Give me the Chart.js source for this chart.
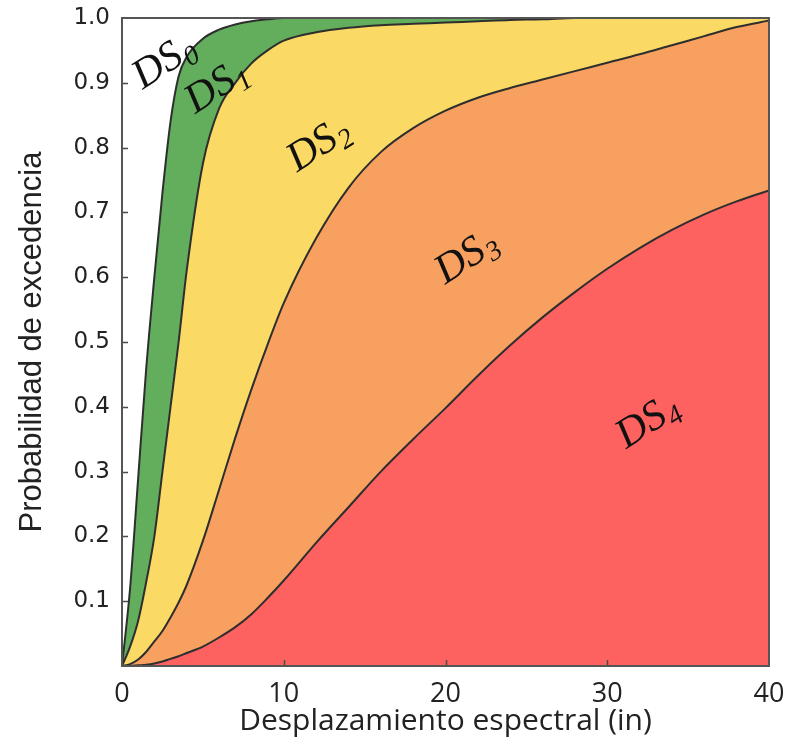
<!DOCTYPE html>
<html>
<head>
<meta charset="utf-8">
<script src="https://cdn.jsdelivr.net/npm/chart.js@4.4.1/dist/chart.umd.min.js"></script>
<style>
  html, body { margin: 0; padding: 0; background: #fff; }
</style>
</head>
<body>
<canvas id="chart" width="786" height="743"></canvas>
<script>
"use strict"

// spectral displacement (in)
const xs = [0, 0.5, 1, 1.5, 2, 2.5, 3, 3.5, 4, 5, 6, 7, 8, 9, 10,
            12, 14, 16, 18, 20, 22, 24, 26, 28, 30, 32, 34, 36, 38, 40];

// exceedance probability of each damage state boundary
const ds1 = [0, 0.12, 0.29, 0.46, 0.6, 0.73, 0.84, 0.91, 0.94, 0.968, 0.982, 0.99, 0.995, 0.998, 1,
             1, 1, 1, 1, 1, 1, 1, 1, 1, 1, 1, 1, 1, 1, 1];
const ds2 = [0, 0.03, 0.07, 0.13, 0.2, 0.3, 0.4, 0.5, 0.61, 0.775, 0.86, 0.9, 0.93, 0.95, 0.965,
             0.978, 0.985, 0.989, 0.991, 0.993, 0.995, 0.997, 0.998, 1, 1, 1, 1, 1, 1, 1];
const ds3 = [0, 0.003, 0.01, 0.022, 0.038, 0.054, 0.075, 0.098, 0.125, 0.193, 0.272, 0.352, 0.427, 0.496, 0.56,
             0.66, 0.738, 0.793, 0.83, 0.857, 0.877, 0.892, 0.905, 0.918, 0.931, 0.944, 0.958, 0.972, 0.986, 0.996];
const ds4 = [0, 0, 0.001, 0.002, 0.004, 0.007, 0.011, 0.015, 0.02, 0.03, 0.044, 0.06, 0.08, 0.105, 0.132,
             0.19, 0.245, 0.3, 0.35, 0.398, 0.448, 0.495, 0.538, 0.577, 0.613, 0.645, 0.673, 0.697, 0.717, 0.734];

const xTickLabels = ["0", "10", "20", "30", "40"];
const yTickLabels = ["", "0.1", "0.2", "0.3", "0.4", "0.5", "0.6", "0.7", "0.8", "0.9", "1.0"];

// region labels DS0..DS4 (placed in data coordinates)
const stateSubs = ["0", "1", "2", "3", "4"];
const stateX = [2.5, 5.75, 12.05, 21.2, 32.4];
const stateY = [0.935, 0.897, 0.807, 0.634, 0.38];

const fillColors = ["#62ae5c", "#fad964", "#f8a060", "#fd6261"];

const toPoints = (vals) => vals.map((v, i) => ({ x: xs[i], y: v }));

const frameAndTicks = {
    id: "frameAndTicks",
    afterDraw(chart) {
        const ctx = chart.ctx;
        const a = chart.chartArea;
        const sx = chart.scales.x;
        const sy = chart.scales.y;
        ctx.save();
        ctx.strokeStyle = "#4a4a4a";
        ctx.lineWidth = 1.5;
        for (let v = 0.1; v < 0.95; v += 0.1) {
            const py = Math.round(sy.getPixelForValue(v)) + 0.5;
            ctx.beginPath();
            ctx.moveTo(a.left, py);
            ctx.lineTo(a.left + 6, py);
            ctx.stroke();
        }
        [10, 20, 30].forEach((v) => {
            const px = Math.round(sx.getPixelForValue(v)) + 0.5;
            ctx.beginPath();
            ctx.moveTo(px, a.bottom);
            ctx.lineTo(px, a.bottom - 6);
            ctx.stroke();
        });
        ctx.lineWidth = 2;
        ctx.strokeStyle = "#555";
        ctx.strokeRect(a.left, a.top, a.right - a.left, a.bottom - a.top);
        ctx.restore();
    }
};

const stateLabels = {
    id: "stateLabels",
    afterDatasetsDraw(chart) {
        const ctx = chart.ctx;
        const sx = chart.scales.x;
        const sy = chart.scales.y;
        ctx.save();
        ctx.fillStyle = "#111";
        ctx.textBaseline = "alphabetic";
        for (let i = 0; i < stateSubs.length; i++) {
            const px = sx.getPixelForValue(stateX[i]);
            const py = sy.getPixelForValue(stateY[i]);
            ctx.save();
            ctx.translate(px, py);
            ctx.rotate(-33 * Math.PI / 180);
            ctx.font = 'italic 42px "Liberation Serif"';
            const w1 = ctx.measureText("DS").width;
            ctx.font = 'italic 28px "Liberation Serif"';
            const w2 = ctx.measureText(stateSubs[i]).width;
            const start = -(w1 + w2) / 2;
            ctx.font = 'italic 42px "Liberation Serif"';
            ctx.fillText("DS", start, 14);
            ctx.font = 'italic 28px "Liberation Serif"';
            ctx.fillText(stateSubs[i], start + w1 + 1, 21);
            ctx.restore();
        }
        ctx.restore();
    }
};

const series = [ds1, ds2, ds3, ds4];
const datasets = series.map((vals, i) => ({
    data: toPoints(vals),
    borderColor: "#2e2e2e",
    borderWidth: 2,
    backgroundColor: fillColors[i],
    fill: i < 3 ? "+1" : "origin",
    pointRadius: 0,
    cubicInterpolationMode: "monotone"
}));

new Chart(document.getElementById("chart"), {
    type: "line",
    data: { datasets: datasets },
    plugins: [frameAndTicks, stateLabels],
    options: {
        responsive: false,
        animation: false,
        layout: { padding: { top: 18, right: 17, left: 0, bottom: 0 } },
        plugins: {
            legend: { display: false },
            tooltip: { enabled: false },
            filler: { drawTime: "beforeDatasetsDraw" }
        },
        scales: {
            x: {
                type: "linear",
                min: 0,
                max: 40,
                grid: { display: false },
                border: { display: false },
                afterFit: (scale) => {
                    scale.height = 77;
                    scale.paddingLeft = 0;
                    scale.paddingRight = 0;
                },
                ticks: {
                    stepSize: 10,
                    padding: 4,
                    color: "#222",
                    font: { family: "Open Sans", size: 27 },
                    callback: (v) => xTickLabels[Math.round(v / 10)]
                },
                title: {
                    display: true,
                    text: "Desplazamiento espectral (in)",
                    color: "#222",
                    font: { family: "Open Sans", size: 30 },
                    padding: { top: 0, bottom: 4 }
                }
            },
            y: {
                min: 0,
                max: 1,
                grid: { display: false },
                border: { display: false },
                afterFit: (scale) => {
                    scale.width = 122;
                    scale.paddingTop = 0;
                    scale.paddingBottom = 0;
                },
                ticks: {
                    stepSize: 0.1,
                    padding: 4,
                    color: "#222",
                    font: { family: "DejaVu Sans", size: 23 },
                    callback: (v) => yTickLabels[Math.round(v * 10)]
                },
                title: {
                    display: true,
                    text: "Probabilidad de excedencia",
                    color: "#222",
                    font: { family: "Liberation Sans", size: 31 },
                    padding: { top: 14, bottom: 0 }
                }
            }
        }
    }
});
</script>
</body>
</html>
